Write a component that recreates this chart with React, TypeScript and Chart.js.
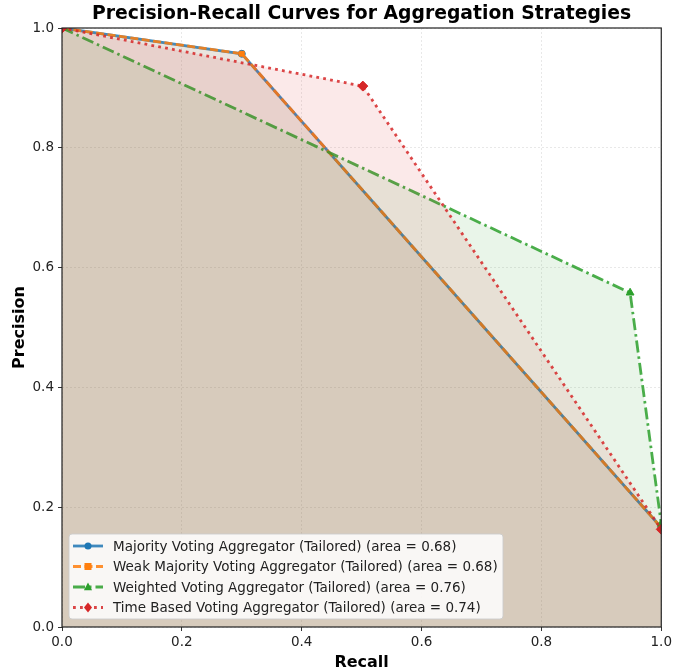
import React, { useEffect, useRef } from "react";
import { Chart, registerables } from "chart.js";

Chart.register(...registerables);

const recallMajority = [0, 0.3, 1];
const precisionMajority = [1, 0.957, 0.166];
const recallWeak = [0, 0.3, 1];
const precisionWeak = [1, 0.957, 0.166];
const recallWeighted = [0, 0.948, 1];
const precisionWeighted = [1, 0.558, 0.172];
const recallTime = [0, 0.502, 1];
const precisionTime = [1, 0.903, 0.163];

const labels = [
  "Majority Voting Aggregator (Tailored) (area = 0.68)",
  "Weak Majority Voting Aggregator (Tailored) (area = 0.68)",
  "Weighted Voting Aggregator (Tailored) (area = 0.76)",
  "Time Based Voting Aggregator (Tailored) (area = 0.74)",
];

const TITLE = "Precision-Recall Curves for Aggregation Strategies";
const FONT = "'DejaVu Sans', sans-serif";

const toPts = (xs: number[], ys: number[]) => xs.map((x, i) => ({ x, y: ys[i] }));

const styles = [
  { color: "rgba(31,119,180,0.85)", solid: "rgb(31,119,180)", fill: "rgba(31,119,180,0.1)", dash: [] as number[], marker: "circle", size: 3.5 },
  { color: "rgba(255,127,14,0.85)", solid: "rgb(255,127,14)", fill: "rgba(255,127,14,0.1)", dash: [8, 3.5], marker: "rect", size: 3.5 },
  { color: "rgba(44,160,44,0.85)", solid: "rgb(44,160,44)", fill: "rgba(44,160,44,0.1)", dash: [12, 4, 2.5, 4], marker: "triangle", size: 4.5 },
  { color: "rgba(214,39,40,0.85)", solid: "rgb(214,39,40)", fill: "rgba(214,39,40,0.1)", dash: [2.8, 4.2], marker: "rectRot", size: 5 },
];

function drawMarker(ctx: CanvasRenderingContext2D, type: string, x: number, y: number, s: number) {
  ctx.beginPath();
  if (type === "circle") {
    ctx.arc(x, y, s, 0, Math.PI * 2);
  } else if (type === "rect") {
    ctx.rect(x - s, y - s, 2 * s, 2 * s);
  } else if (type === "triangle") {
    ctx.moveTo(x, y - s);
    ctx.lineTo(x + s * 0.9, y + s * 0.7);
    ctx.lineTo(x - s * 0.9, y + s * 0.7);
    ctx.closePath();
  } else {
    ctx.moveTo(x, y - s);
    ctx.lineTo(x + s * 0.8, y);
    ctx.lineTo(x, y + s);
    ctx.lineTo(x - s * 0.8, y);
    ctx.closePath();
  }
  ctx.fill();
}

const decorPlugin = {
  id: "decor",
  afterDraw(chart: any) {
    const ctx = chart.ctx;
    const area = chart.chartArea;
    ctx.save();
    ctx.strokeStyle = "#222";
    ctx.lineWidth = 1.2;
    ctx.strokeRect(area.left, area.top, area.right - area.left, area.bottom - area.top);

    // title
    ctx.fillStyle = "#000";
    ctx.font = `bold 18.8px ${FONT}`;
    ctx.textAlign = "center";
    ctx.textBaseline = "middle";
    ctx.fillText(TITLE, (area.left + area.right) / 2, 14);

    // legend
    const x0 = area.left + 7;
    const y0 = area.bottom - 93;
    const w = 434;
    const h = 85;
    ctx.fillStyle = "rgba(255,255,255,0.85)";
    ctx.strokeStyle = "rgba(204,204,204,0.9)";
    ctx.lineWidth = 1;
    const r = 3;
    ctx.beginPath();
    ctx.moveTo(x0 + r, y0);
    ctx.lineTo(x0 + w - r, y0);
    ctx.quadraticCurveTo(x0 + w, y0, x0 + w, y0 + r);
    ctx.lineTo(x0 + w, y0 + h - r);
    ctx.quadraticCurveTo(x0 + w, y0 + h, x0 + w - r, y0 + h);
    ctx.lineTo(x0 + r, y0 + h);
    ctx.quadraticCurveTo(x0, y0 + h, x0, y0 + h - r);
    ctx.lineTo(x0, y0 + r);
    ctx.quadraticCurveTo(x0, y0, x0 + r, y0);
    ctx.closePath();
    ctx.fill();
    ctx.stroke();

    chart.data.datasets.forEach((ds: any, i: number) => {
      const st = styles[i];
      const cy = y0 + 12 + i * 20.5;
      ctx.save();
      ctx.strokeStyle = st.color;
      ctx.lineWidth = 2.8;
      ctx.setLineDash(st.dash);
      ctx.beginPath();
      ctx.moveTo(x0 + 4, cy);
      ctx.lineTo(x0 + 34, cy);
      ctx.stroke();
      ctx.restore();
      ctx.save();
      ctx.fillStyle = st.solid;
      drawMarker(ctx, st.marker, x0 + 19, cy, st.size);
      ctx.restore();
      ctx.fillStyle = "#222";
      ctx.font = `13.5px ${FONT}`;
      ctx.textBaseline = "middle";
      ctx.textAlign = "left";
      ctx.fillText(ds.label, x0 + 44, cy + 1);
    });
    ctx.restore();
  },
};

export default function App() {
  const ref = useRef<HTMLCanvasElement>(null);
  useEffect(() => {
    document.body.style.margin = "0";
    const series = [
      toPts(recallMajority, precisionMajority),
      toPts(recallWeak, precisionWeak),
      toPts(recallWeighted, precisionWeighted),
      toPts(recallTime, precisionTime),
    ];
    const chart = new Chart(ref.current!, {
      type: "line",
      data: {
        datasets: series.map((d, i) => ({
          label: labels[i],
          data: d,
          borderColor: styles[i].color,
          backgroundColor: styles[i].fill,
          borderWidth: 2.8,
          borderDash: styles[i].dash,
          fill: "origin",
          pointStyle: styles[i].marker,
          pointRadius: styles[i].size,
          pointBackgroundColor: styles[i].solid,
          pointBorderColor: styles[i].solid,
          pointBorderWidth: 1,
          tension: 0,
          clip: 0,
          order: 3 - i,
        })),
      },
      options: {
        animation: false,
        responsive: false,
        maintainAspectRatio: false,
        layout: { padding: { left: 10, right: 13, top: 28, bottom: 0 } },
        plugins: {
          legend: { display: false },
          tooltip: { enabled: false },
          title: { display: false },
        },
        scales: {
          x: {
            type: "linear",
            min: 0,
            max: 1,
            ticks: {
              stepSize: 0.2,
              color: "#222",
              font: { family: FONT, size: 13.5 },
              padding: 3,
              callback: (v: any) => Number(v).toFixed(1),
              maxRotation: 0,
            },
            grid: {
              color: "rgba(0,0,0,0.09)",
              tickColor: "#333",
              tickLength: 4,
              lineWidth: 1,
            },
            border: { display: false, dash: [2, 2] },
            title: {
              display: true,
              text: "Recall",
              color: "#000",
              font: { family: FONT, size: 16, weight: "bold" },
              padding: { top: 0, bottom: 0 },
            },
            afterFit: (s: any) => {
              s.height = 45;
            },
          },
          y: {
            type: "linear",
            min: 0,
            max: 1,
            ticks: {
              stepSize: 0.2,
              color: "#222",
              font: { family: FONT, size: 13.5 },
              padding: 4,
              callback: (v: any) => Number(v).toFixed(1),
            },
            grid: {
              color: "rgba(0,0,0,0.09)",
              tickColor: "#333",
              tickLength: 4,
              lineWidth: 1,
            },
            border: { display: false, dash: [2, 2] },
            title: {
              display: true,
              text: "Precision",
              color: "#000",
              font: { family: FONT, size: 16, weight: "bold" },
              padding: { top: 0, bottom: 0 },
            },
            afterFit: (s: any) => {
              s.width = 52;
            },
          },
        },
      },
      plugins: [decorPlugin],
    } as any);
    return () => chart.destroy();
  }, []);
  return <canvas ref={ref} width={675} height={672} style={{ display: "block" }} />;
}
